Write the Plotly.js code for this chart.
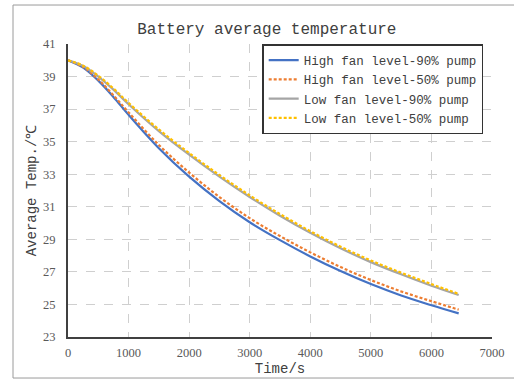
<!DOCTYPE html>
<html>
<head>
<meta charset="utf-8">
<script src="https://cdn.plot.ly/plotly-3.0.1.min.js"></script>
<style>
html,body{margin:0;padding:0;background:#fff;}
#chart{width:514px;height:380px;}
</style>
</head>
<body>
<div id="chart"></div>
<script>
// Data
const timeS = [0, 250, 500, 750, 1000, 1500, 2000, 2500, 3000, 3500, 4000, 4500, 5000, 5500, 6000, 6450];
const highFan90 = [40, 39.55, 38.75, 37.75, 36.65, 34.6, 32.85, 31.35, 30.05, 28.95, 27.95, 27.05, 26.25, 25.55, 24.95, 24.45];
const highFan50 = [40, 39.58, 38.82, 37.85, 36.8, 34.8, 33.1, 31.6, 30.3, 29.2, 28.2, 27.3, 26.5, 25.8, 25.2, 24.68];
const lowFan90  = [40, 39.65, 39.0, 38.2, 37.3, 35.65, 34.2, 32.85, 31.6, 30.45, 29.4, 28.45, 27.6, 26.85, 26.15, 25.58];
const lowFan50  = [40, 39.67, 39.05, 38.27, 37.38, 35.75, 34.3, 32.95, 31.7, 30.55, 29.5, 28.55, 27.7, 26.95, 26.25, 25.65];
const seriesNames = ["High fan level-90% pump", "High fan level-50% pump", "Low fan level-90% pump", "Low fan level-50% pump"];
const xTicks = [0, 1000, 2000, 3000, 4000, 5000, 6000, 7000];
const yTicks = [23, 25, 27, 29, 31, 33, 35, 37, 39, 41];

const monoFont = "'Liberation Mono', 'Courier New', monospace";
const tickFont = {family: "'Liberation Serif', 'Times New Roman', serif", size: 12.5, color: "#595959"};

const traces = [
  {x: timeS, y: highFan90, name: seriesNames[0], mode: "lines",
   line: {color: "#4472C4", width: 2.2, shape: "spline"}},
  {x: timeS, y: highFan50, name: seriesNames[1], mode: "lines",
   line: {color: "#ED7D31", width: 2.2, dash: "3px,2px", shape: "spline"}},
  {x: timeS, y: lowFan90, name: seriesNames[2], mode: "lines",
   line: {color: "#A5A5A5", width: 2.2, shape: "spline"}},
  {x: timeS, y: lowFan50, name: seriesNames[3], mode: "lines",
   line: {color: "#FFC000", width: 2.2, dash: "3px,2px", shape: "spline"}}
];

const layout = {
  width: 514, height: 380,
  margin: {l: 68, r: 22, t: 44, b: 43, pad: 0},
  paper_bgcolor: "#fff", plot_bgcolor: "#fff",
  showlegend: true,
  title: {text: "Battery average temperature", font: {family: monoFont, size: 16, color: "#404040"},
          x: 0.469, xref: "paper", xanchor: "center", y: 0.925, yanchor: "middle"},
  xaxis: {
    range: [0, 7000], tickvals: xTicks, ticktext: xTicks.map(String),
    showgrid: true, gridcolor: "#cfcfcf", griddash: "dash", gridwidth: 1,
    showline: true, linecolor: "#404040", linewidth: 2, zeroline: false,
    ticks: "", tickfont: tickFont, ticklabelstandoff: 3,
    title: {text: "Time/s", font: {family: monoFont, size: 14, color: "#404040"}, standoff: 4}
  },
  yaxis: {
    range: [23, 41], tickvals: yTicks, ticktext: yTicks.map(String),
    showgrid: true, gridcolor: "#cfcfcf", griddash: "dash", gridwidth: 1,
    showline: true, linecolor: "#404040", linewidth: 2, zeroline: false,
    ticks: "", tickfont: tickFont, ticklabelstandoff: 8,
    title: {text: "Average Temp./℃", font: {family: monoFont, size: 14, color: "#404040"}, standoff: 3}
  },
  legend: {
    x: 0.458, xanchor: "left", y: 1.0, yanchor: "top",
    bgcolor: "#fff", bordercolor: "#333", borderwidth: 1.5,
    font: {family: monoFont, size: 12.5, color: "#404040"},
    tracegroupgap: 0
  },
  shapes: [
    {type: "rect", xref: "paper", yref: "paper", x0: -0.1297, x1: 1.1, y0: -0.14, y1: 1.133,
     line: {color: "#9a9a9a", width: 1}, fillcolor: "rgba(0,0,0,0)", layer: "below"}
  ]
};

Plotly.newPlot("chart", traces, layout, {staticPlot: true, displayModeBar: false});
</script>
</body>
</html>
